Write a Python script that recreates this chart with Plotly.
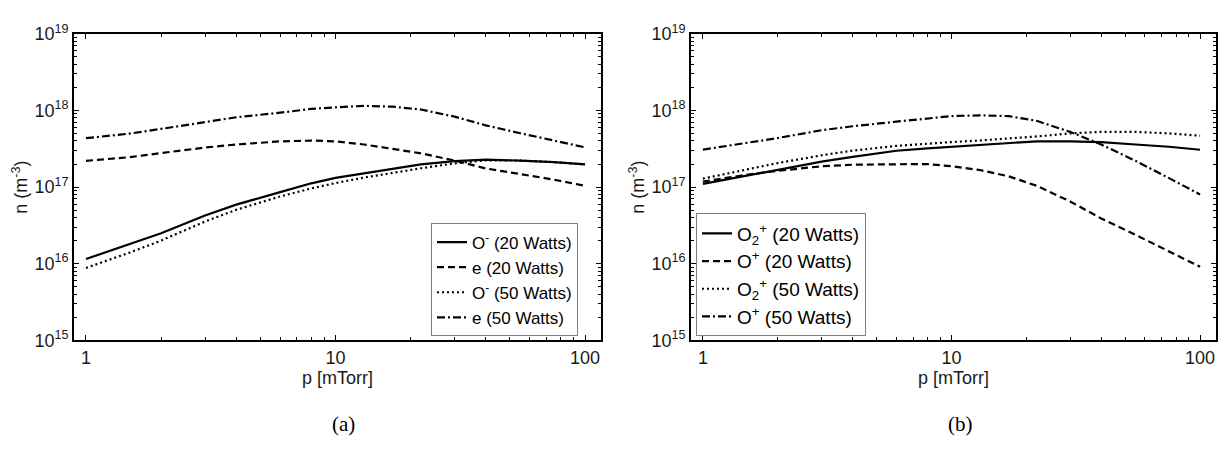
import plotly.graph_objects as go

# pressure grid [mTorr]
p = [1, 1.5, 2, 3, 4, 6, 8, 10, 13, 17, 22, 30, 40, 55, 75, 100]

# (a) densities [m^-3]
o_neg_20 = [1.15e16, 1.80e16, 2.50e16, 4.25e16, 5.90e16, 8.60e16, 1.12e17, 1.32e17,
            1.52e17, 1.75e17, 1.98e17, 2.18e17, 2.28e17, 2.22e17, 2.12e17, 1.98e17]
e_20 = [2.20e17, 2.46e17, 2.78e17, 3.28e17, 3.60e17, 3.95e17, 4.05e17, 3.95e17,
        3.60e17, 3.18e17, 2.76e17, 2.22e17, 1.75e17, 1.48e17, 1.25e17, 1.04e17]
o_neg_50 = [8.80e15, 1.40e16, 2.00e16, 3.55e16, 5.05e16, 7.55e16, 9.60e16, 1.13e17,
            1.33e17, 1.54e17, 1.76e17, 2.04e17, 2.23e17, 2.22e17, 2.12e17, 1.98e17]
e_50 = [4.35e17, 5.00e17, 5.75e17, 7.10e17, 8.15e17, 9.35e17, 1.05e18, 1.10e18,
        1.15e18, 1.12e18, 1.03e18, 8.30e17, 6.40e17, 5.05e17, 4.08e17, 3.30e17]

# (b) densities [m^-3]
o2p_20 = [1.10e17, 1.42e17, 1.67e17, 2.15e17, 2.48e17, 2.98e17, 3.20e17, 3.36e17,
          3.60e17, 3.78e17, 3.96e17, 3.96e17, 3.87e17, 3.60e17, 3.36e17, 3.07e17]
op_20 = [1.18e17, 1.45e17, 1.63e17, 1.87e17, 1.96e17, 2.00e17, 2.00e17, 1.87e17,
         1.67e17, 1.38e17, 1.04e17, 6.50e16, 3.90e16, 2.38e16, 1.46e16, 9.10e15]
o2p_50 = [1.29e17, 1.71e17, 2.06e17, 2.60e17, 2.99e17, 3.45e17, 3.70e17, 3.87e17,
          4.06e17, 4.27e17, 4.58e17, 5.02e17, 5.26e17, 5.26e17, 5.02e17, 4.68e17]
op_50 = [3.08e17, 3.80e17, 4.37e17, 5.52e17, 6.22e17, 7.15e17, 7.88e17, 8.45e17,
         8.64e17, 8.45e17, 7.33e17, 5.26e17, 3.60e17, 2.20e17, 1.31e17, 8.00e16]

labels_a = ["O<sup>-</sup> (20 Watts)", "e (20 Watts)", "O<sup>-</sup> (50 Watts)", "e (50 Watts)"]
labels_b = ["O<sub>2</sub><sup>+</sup> (20 Watts)", "O<sup>+</sup> (20 Watts)",
            "O<sub>2</sub><sup>+</sup> (50 Watts)", "O<sup>+</sup> (50 Watts)"]

y_tickvals = [1e15, 1e16, 1e17, 1e18, 1e19]
y_ticktext = ["10<sup>15</sup>", "10<sup>16</sup>", "10<sup>17</sup>", "10<sup>18</sup>", "10<sup>19</sup>"]
x_tickvals = [1, 10, 100]
x_ticktext = ["1", "10", "100"]

dashes = ["solid", "7px,4px", "2px,3px", "8px,3px,2px,3px"]

fig = go.Figure()
for ys, name, d in zip([o_neg_20, e_20, o_neg_50, e_50], labels_a, dashes):
    fig.add_trace(go.Scatter(x=p, y=ys, mode="lines", name=name,
                             line=dict(color="black", width=2.2, dash=d),
                             xaxis="x", yaxis="y", legend="legend"))
for ys, name, d in zip([o2p_20, op_20, o2p_50, op_50], labels_b, dashes):
    fig.add_trace(go.Scatter(x=p, y=ys, mode="lines", name=name,
                             line=dict(color="black", width=2.2, dash=d),
                             xaxis="x2", yaxis="y2", legend="legend2"))

W, H = 1224, 454
top, bot = 23, 345
ydom = [1 - bot / H, 1 - top / H]
font_main = "Liberation Sans, Arial, sans-serif"
txt = "#1a1a1a"

def xax(dom, anchor):
    return dict(type="log", domain=dom, anchor=anchor, range=[-0.048, 2.064],
                tickvals=x_tickvals, ticktext=x_ticktext, ticks="inside", ticklen=5,
                tickwidth=1, tickcolor="black", showline=True, linecolor="black",
                linewidth=1.8, mirror="allticks", showgrid=False, zeroline=False,
                minor=dict(ticks="inside", ticklen=3, tickcolor="black", dtick="D1", showgrid=False),
                tickfont=dict(family=font_main, size=18, color=txt),
                title=dict(text="p [mTorr]", font=dict(family=font_main, size=18, color=txt), standoff=4))

def yax(anchor):
    return dict(type="log", domain=ydom, anchor=anchor, range=[15, 19],
                tickvals=y_tickvals, ticktext=y_ticktext, ticks="inside", ticklen=5,
                tickwidth=1, tickcolor="black", showline=True, linecolor="black",
                linewidth=1.8, mirror="allticks", showgrid=False, zeroline=False,
                minor=dict(ticks="inside", ticklen=3, tickcolor="black", dtick="D1", showgrid=False),
                tickfont=dict(family=font_main, size=18, color=txt),
                title=dict(text="n (m<sup>-3</sup>)", font=dict(family=font_main, size=18, color=txt), standoff=2))

legend_style = dict(bgcolor="white", bordercolor="#7f7f7f", borderwidth=1,
                    xanchor="left", yanchor="bottom", tracegroupgap=0)

fig.update_layout(
    width=W, height=H, margin=dict(l=0, r=0, t=0, b=0),
    paper_bgcolor="white", plot_bgcolor="white",
    xaxis=xax([74 / W, 601 / W], "y"),
    yaxis=yax("x"),
    xaxis2=xax([691 / W, 1216 / W], "y2"),
    yaxis2=yax("x2"),
    legend=dict(x=431 / W, y=1 - 341 / H, font=dict(family=font_main, size=17, color="black"),
                **legend_style),
    legend2=dict(x=696 / W, y=1 - 341 / H, font=dict(family=font_main, size=19, color="black"),
                 **legend_style),
    annotations=[
        dict(text="(a)", x=343 / W, y=1 - 433 / H, xref="paper", yref="paper", showarrow=False,
             xanchor="center", yanchor="middle",
             font=dict(family="Liberation Serif, Times New Roman, serif", size=21, color="black")),
        dict(text="(b)", x=960 / W, y=1 - 433 / H, xref="paper", yref="paper", showarrow=False,
             xanchor="center", yanchor="middle",
             font=dict(family="Liberation Serif, Times New Roman, serif", size=21, color="black")),
    ],
)

fig.write_html("out.html")
